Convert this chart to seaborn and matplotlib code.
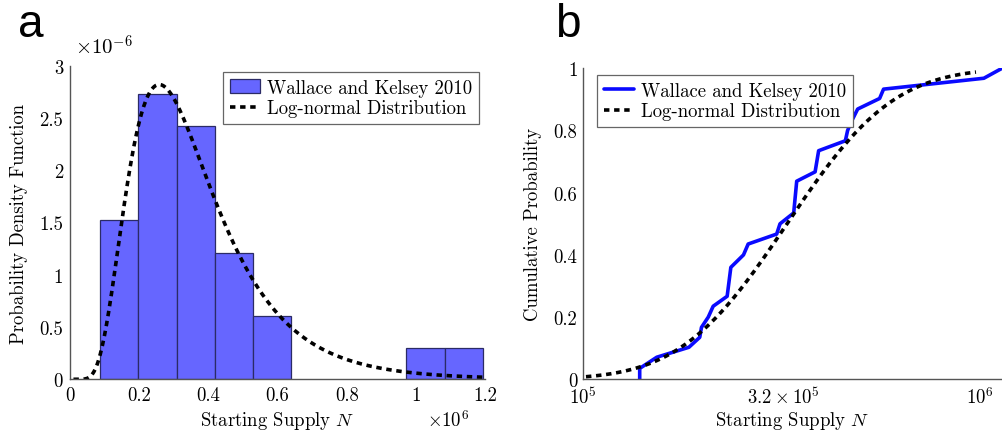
import math
import numpy as np
import pandas as pd
import matplotlib
matplotlib.use("Agg")
import matplotlib.pyplot as plt
from matplotlib.patches import Patch
from matplotlib.lines import Line2D
import seaborn as sns

# ---------------- data ----------------
# Panel a: histogram (bin edges in N, probability density per bin)
bin_edges = [0.087e6, 0.197e6, 0.308e6, 0.419e6, 0.530e6, 0.640e6,
             0.751e6, 0.862e6, 0.972e6, 1.083e6, 1.195e6]
bin_density = [1.52e-6, 2.73e-6, 2.42e-6, 1.21e-6, 0.61e-6,
               0.0, 0.0, 0.0, 0.30e-6, 0.30e-6]

# Log-normal fit parameters (ln N ~ Normal(mu, sigma))
lognorm_mu = 12.698
lognorm_sigma = 0.487
pdf_range = (0.01e6, 1.2e6)
cdf_range = (0.6e5, 0.98e6)

# Panel b: empirical cumulative distribution (vertices of the blue line)
ecdf_supply = [1.39e5, 1.39e5, 1.535e5, 1.85e5, 1.97e5, 1.99e5, 2.07e5, 2.13e5,
               2.31e5, 2.36e5, 2.54e5, 2.61e5, 3.08e5, 3.14e5, 3.40e5, 3.46e5,
               3.85e5, 3.93e5, 4.59e5, 4.65e5, 4.75e5, 4.93e5, 5.60e5, 5.73e5,
               1.026e6, 1.14e6]
ecdf_prob = [0.0, 0.035, 0.071, 0.103, 0.135, 0.167, 0.200, 0.235,
             0.267, 0.360, 0.400, 0.435, 0.467, 0.500, 0.535, 0.637,
             0.667, 0.735, 0.767, 0.800, 0.828, 0.869, 0.903, 0.933,
             0.968, 1.0]

a_xticks = [0, 0.2e6, 0.4e6, 0.6e6, 0.8e6, 1.0e6, 1.2e6]
a_xticklabels = ["0", "0.2", "0.4", "0.6", "0.8", "1", "1.2"]
a_yticks = [0, 0.5e-6, 1e-6, 1.5e-6, 2e-6, 2.5e-6, 3e-6]
a_yticklabels = ["0", "0.5", "1", "1.5", "2", "2.5", "3"]
b_xticks = [1e5, 3.2e5, 1e6]
b_xticklabels = [r"$10^5$", r"$3.2\times10^5$", r"$10^6$"]
b_yticks = [0, 0.2, 0.4, 0.6, 0.8, 1.0]
b_yticklabels = ["0", "0.2", "0.4", "0.6", "0.8", "1"]

series_hist = "Wallace and Kelsey 2010"
series_fit = "Log-normal Distribution"

# ---------------- style ----------------
sns.set_theme(style="white")
plt.rcParams["font.family"] = ["cmr10", "DejaVu Serif"]
plt.rcParams["mathtext.fontset"] = "cm"
plt.rcParams["axes.unicode_minus"] = False
plt.rcParams["axes.formatter.use_mathtext"] = True
plt.rcParams["text.color"] = "black"
plt.rcParams["axes.labelcolor"] = "black"
FS = 13.5

BAR_FACE = "#6666ff"
BAR_EDGE = "#2b2b66"
BLUE = "#0a0aff"
SPINE = "#555555"
TICK = "#c0c0c0"
DASH = (0, (1.5, 1.3))

fig = plt.figure(figsize=(10.02, 4.35), dpi=100)
W, H = 1002.0, 435.0

def box(l, t, r, b):
    return [l / W, 1 - b / H, (r - l) / W, (b - t) / H]

ax_a = fig.add_axes(box(70, 66.7, 485, 380.3))
ax_b = fig.add_axes(box(583, 69.3, 1002, 380.3))

# ---------------- panel a ----------------
edges = np.array(bin_edges)
centers = (edges[:-1] + edges[1:]) / 2
hist_df = pd.DataFrame({"N": centers, "density": bin_density})
sns.histplot(data=hist_df, x="N", weights="density", bins=list(bin_edges), stat="count",
             color=BAR_FACE, alpha=1.0, edgecolor=BAR_EDGE, linewidth=0.9, ax=ax_a)
for p in ax_a.patches:
    if p.get_height() == 0:
        p.set_visible(False)

def lognorm_pdf(x):
    return np.exp(-(np.log(x) - lognorm_mu) ** 2 / (2 * lognorm_sigma ** 2)) / (
        x * lognorm_sigma * np.sqrt(2 * np.pi))

def lognorm_cdf(x):
    z = (np.log(x) - lognorm_mu) / (lognorm_sigma * np.sqrt(2))
    return 0.5 * (1 + np.vectorize(math.erf)(z))

xs_a = np.linspace(pdf_range[0], pdf_range[1], 400)
sns.lineplot(x=xs_a, y=lognorm_pdf(xs_a), color="black", lw=2.6, linestyle=DASH,
             ax=ax_a, sort=False, estimator=None)

ax_a.set_xlim(0, 1.2e6)
ax_a.set_ylim(0, 3e-6)
ax_a.set_xticks(a_xticks)
ax_a.set_xticklabels(a_xticklabels)
ax_a.set_yticks(a_yticks)
ax_a.set_yticklabels(a_yticklabels)
ax_a.set_xlabel(r"Starting Supply $N$", fontsize=FS)
ax_a.set_ylabel("Probability Density Function", fontsize=FS, labelpad=8)
ax_a.xaxis.set_label_coords(0.5, -(410 - 380.3) / 313.6)

leg_a = ax_a.legend(
    handles=[Patch(facecolor=BAR_FACE, edgecolor=BAR_EDGE, linewidth=0.9),
             Line2D([], [], color="black", lw=2.6, linestyle=DASH)],
    labels=[series_hist, series_fit], loc="upper right",
    bbox_to_anchor=(479 / W, 1 - 73 / H), bbox_transform=fig.transFigure,
    borderaxespad=0, fancybox=False, framealpha=1, edgecolor="#666666",
    fontsize=FS, handlelength=1.6, handletextpad=0.4, labelspacing=0.15,
    borderpad=0.35)
leg_a.get_frame().set_linewidth(0.9)

fig.text(75 / W, 1 - 47 / H, r"$\times10^{-6}$", fontsize=FS + 1.5, va="center", ha="left")
fig.text(427 / W, 1 - 421 / H, r"$\times10^{6}$", fontsize=FS, va="center", ha="left")

# ---------------- panel b ----------------
xs_b = np.geomspace(cdf_range[0], cdf_range[1], 400)
sns.lineplot(x=ecdf_supply, y=ecdf_prob, color=BLUE, lw=2.6, ax=ax_b,
             sort=False, estimator=None)
sns.lineplot(x=xs_b, y=lognorm_cdf(xs_b), color="black", lw=2.6, linestyle=DASH,
             ax=ax_b, sort=False, estimator=None)
ax_b.set_xscale("log")
ax_b.set_xlim(1e5, 1.14e6)
ax_b.set_ylim(0, 1)
ax_b.set_xticks(b_xticks)
ax_b.set_xticklabels(b_xticklabels)
ax_b.xaxis.set_minor_locator(matplotlib.ticker.NullLocator())
ax_b.set_yticks(b_yticks)
ax_b.set_yticklabels(b_yticklabels)
ax_b.set_xlabel(r"Starting Supply $N$", fontsize=FS)
ax_b.set_ylabel("Cumulative Probability", fontsize=FS, labelpad=8)
ax_b.xaxis.set_label_coords(0.5, -(410 - 380.3) / 311.0)

leg_b = ax_b.legend(
    handles=[Line2D([], [], color=BLUE, lw=2.6),
             Line2D([], [], color="black", lw=2.6, linestyle=DASH)],
    labels=[series_hist, series_fit], loc="upper left",
    bbox_to_anchor=(597 / W, 1 - 76 / H), bbox_transform=fig.transFigure,
    borderaxespad=0, fancybox=False, framealpha=1, edgecolor="#666666",
    fontsize=FS, handlelength=1.6, handletextpad=0.4, labelspacing=0.15,
    borderpad=0.35)
leg_b.get_frame().set_linewidth(0.9)

for ax in (ax_a, ax_b):
    for s in ("top", "right"):
        ax.spines[s].set_visible(False)
    for s in ("left", "bottom"):
        ax.spines[s].set_color(SPINE)
        ax.spines[s].set_linewidth(1.0)
    ax.tick_params(axis="both", which="major", direction="in", length=4,
                   width=0.8, color=TICK, labelsize=FS, labelcolor="black", pad=5)
    ax.patch.set_alpha(0)
ax_b.tick_params(axis="y", pad=4)

fig.text(18 / W, 1 - 37 / H, "a", fontsize=33, color="black",
         family=["Liberation Sans", "DejaVu Sans"], va="baseline", ha="left")
fig.text(555 / W, 1 - 37 / H, "b", fontsize=33, color="black",
         family=["Liberation Sans", "DejaVu Sans"], va="baseline", ha="left")

fig.savefig("out.png", dpi=100)
